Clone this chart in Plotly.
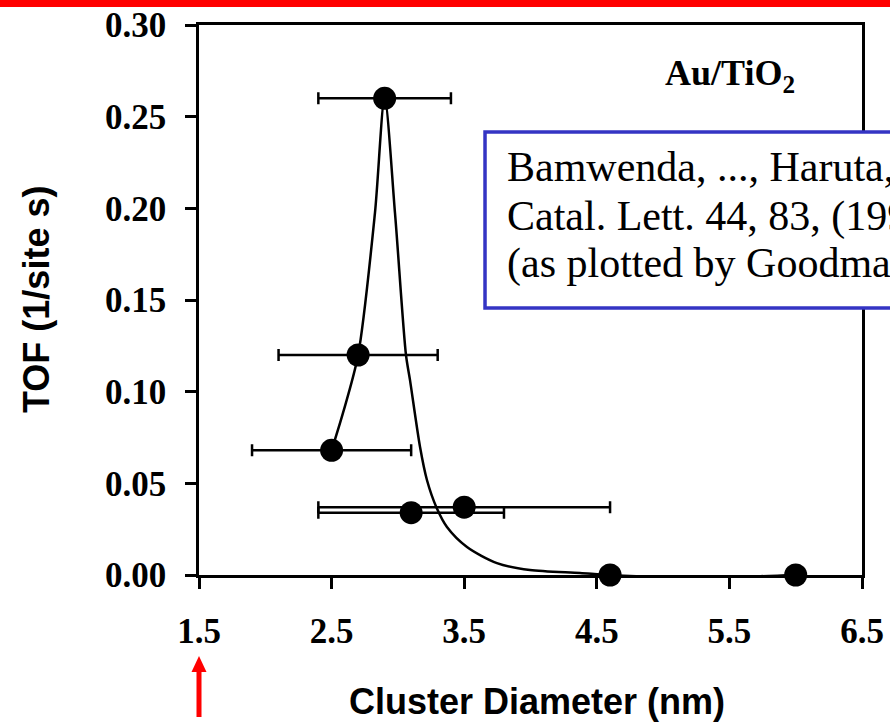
import plotly.graph_objects as go

# Au/TiO2: turnover frequency vs. gold cluster diameter
diameter = [2.5, 2.7, 2.9, 3.1, 3.5, 4.6, 6.0]
tof = [0.068, 0.12, 0.26, 0.034, 0.037, 0.0, 0.0]
diameter_err = [0.6, 0.6, 0.5, 0.7, 1.1, 0.0, 0.0]

# guide-to-the-eye curve
fit_x = [2.5, 2.586, 2.7, 2.827, 2.9, 2.978, 3.061, 3.091, 3.167, 3.219,
         3.29, 3.37, 3.521, 3.747, 3.996, 4.373, 4.6, 5.127, 5.58, 6.0]
fit_y = [0.068, 0.0884, 0.12, 0.1975, 0.26, 0.1975, 0.12, 0.1064, 0.0698, 0.0518,
         0.037, 0.0262, 0.0153, 0.0065, 0.0027, 0.0011, 0.0, -0.0014, -0.001, 0.0]

x_ticks = [1.5, 2.5, 3.5, 4.5, 5.5, 6.5]
y_ticks = [0.00, 0.05, 0.10, 0.15, 0.20, 0.25, 0.30]

SERIF = "Liberation Serif, Times New Roman, serif"
SANS = "Liberation Sans, Arial, sans-serif"

fig = go.Figure()

fig.add_trace(go.Scatter(
    x=fit_x, y=fit_y, mode="lines",
    line=dict(color="black", width=2.5, shape="spline", smoothing=0.8),
    cliponaxis=False, hoverinfo="skip", showlegend=False,
))

fig.add_trace(go.Scatter(
    x=diameter, y=tof, mode="markers",
    marker=dict(color="black", size=23, line=dict(width=0)),
    error_x=dict(type="data", array=diameter_err, symmetric=True,
                 color="black", thickness=2.5, width=6),
    cliponaxis=False, showlegend=False,
))

axis_common = dict(
    showgrid=False, zeroline=False, automargin=False,
    showline=True, linecolor="black", linewidth=2.5, mirror=True,
    ticks="outside", ticklen=11, tickwidth=2.5, tickcolor="black",
    tickfont=dict(family=SERIF, size=35, color="black", weight="bold"),
)

fig.update_xaxes(range=[1.5, 6.5], tickvals=x_ticks,
                 ticktext=[f"{v:.1f}" for v in x_ticks],
                 ticklabelstandoff=12, **axis_common)
fig.update_yaxes(range=[0, 0.30], tickvals=y_ticks,
                 ticktext=[f"{v:.2f}" for v in y_ticks],
                 ticklabelstandoff=12, **axis_common)

annotations = [
    dict(text="TOF (1/site s)", textangle=-90, x=-0.2459, y=0.5018,
         xref="paper", yref="paper", xanchor="center", yanchor="middle",
         showarrow=False,
         font=dict(family=SANS, size=36, color="black", weight="bold")),
    dict(text="Cluster Diameter (nm)", x=0.5098, y=-0.2309,
         xref="paper", yref="paper", xanchor="center", yanchor="middle",
         showarrow=False,
         font=dict(family=SANS, size=36, color="black", weight="bold")),
    dict(text="Au/TiO<sub>2</sub>", x=0.801, y=0.908,
         xref="paper", yref="paper", xanchor="center", yanchor="middle",
         showarrow=False,
         font=dict(family=SERIF, size=36, color="black", weight="bold")),
]

citation = ["Bamwenda, ..., Haruta,",
            "Catal. Lett. 44, 83, (1997)",
            "(as plotted by Goodman)"]
for line, yy in zip(citation, [0.742, 0.651, 0.567]):
    annotations.append(dict(
        text=line, x=0.4615, y=yy, xref="paper", yref="paper",
        xanchor="left", yanchor="middle", showarrow=False,
        font=dict(family=SERIF, size=42, color="black")))

shapes = [
    # citation box
    dict(type="rect", xref="paper", yref="paper",
         x0=0.4314, x1=1.07, y0=0.4855, y1=0.8055,
         line=dict(color="#3434C4", width=3.5), fillcolor="white", layer="above"),
    # red rule along the top
    dict(type="rect", xref="paper", yref="paper",
         x0=-0.4, x1=1.1, y0=1.0327, y1=1.05,
         line=dict(width=0), fillcolor="#ff0000", layer="above"),
    # red arrow pointing at 1.5 nm
    dict(type="path", xref="paper", yref="paper",
         xsizemode="pixel", ysizemode="pixel", xanchor=0, yanchor=0,
         path="M -7.5,-97 L 0,-81 L 7.5,-97 Z M -2.5,-97 L 2.5,-97 L 2.5,-142 L -2.5,-142 Z",
         line=dict(width=0), fillcolor="#ff0000", layer="above"),
]

fig.update_layout(
    width=890, height=727,
    margin=dict(l=199, r=28, t=25, b=152),
    paper_bgcolor="white", plot_bgcolor="white",
    annotations=annotations, shapes=shapes,
    showlegend=False,
)

fig.write_html("out.html")
